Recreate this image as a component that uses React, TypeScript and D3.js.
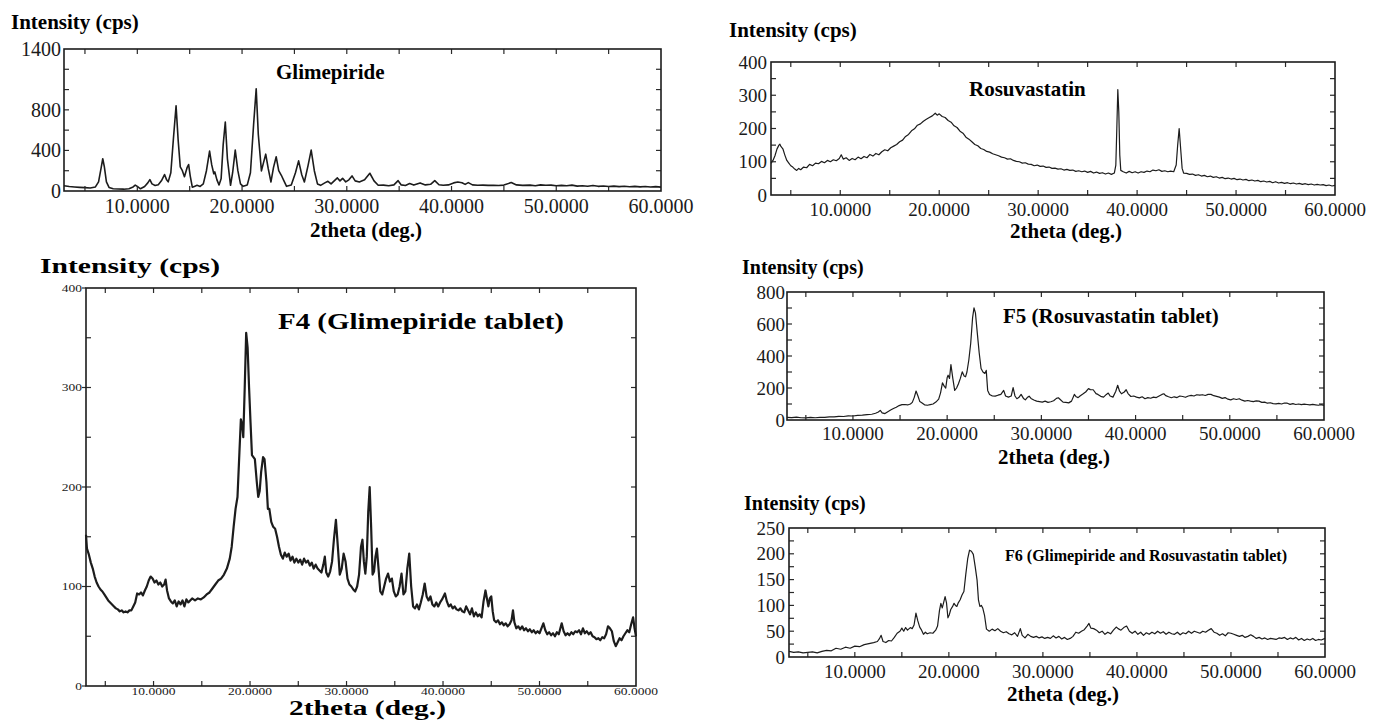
import React from 'react';
import * as d3 from 'd3';

// XRD patterns, [2theta (deg), intensity (cps)]
const glimepiride: [number, number][] = [
  [3.0,52],[3.5,45],[4.0,40],[4.5,36],[5.0,33],[5.5,30],[6.0,40],[6.3,90],[6.55,230],[6.7,318],[6.85,240],[7.05,90],[7.3,35],[7.7,22],[8.2,20],[8.7,18],[9.2,22],[9.6,40],[9.8,58],[10.0,45],[10.3,22],[10.7,45],[11.0,80],[11.2,112],[11.4,70],[11.7,55],[12.0,62],[12.3,100],[12.6,162],[12.8,110],[12.95,90],[13.2,180],[13.45,520],[13.7,839],[13.9,500],[14.1,238],[14.3,200],[14.5,140],[14.75,230],[14.9,261],[15.05,150],[15.25,38],[15.5,48],[15.7,56],[16.0,45],[16.3,70],[16.6,200],[16.9,393],[17.1,260],[17.3,170],[17.4,188],[17.6,110],[17.8,60],[18.0,120],[18.2,460],[18.4,680],[18.6,320],[18.9,56],[19.1,180],[19.35,403],[19.6,200],[19.85,70],[20.1,46],[20.5,60],[20.8,180],[21.1,650],[21.35,1007],[21.55,560],[21.85,198],[22.05,280],[22.26,363],[22.5,220],[22.76,89],[23.0,230],[23.26,337],[23.5,200],[23.75,155],[24.0,100],[24.25,46],[24.7,60],[25.1,180],[25.4,297],[25.7,160],[25.95,89],[26.3,250],[26.6,403],[26.9,200],[27.2,70],[27.5,56],[27.9,80],[28.2,96],[28.5,70],[28.9,110],[29.1,129],[29.35,100],[29.6,125],[29.9,90],[30.2,110],[30.5,149],[30.8,100],[31.2,89],[31.7,110],[32.2,175],[32.6,100],[33.0,56],[33.5,58],[34.0,52],[34.5,60],[34.9,102],[35.2,60],[35.6,55],[36.0,73],[36.4,58],[37.0,80],[37.5,60],[38.0,66],[38.4,102],[38.8,62],[39.2,56],[39.7,60],[40.2,80],[40.6,89],[41.0,82],[41.3,65],[41.6,83],[42.0,60],[42.5,56],[43.0,58],[43.5,55],[44.0,57],[44.5,54],[45.0,58],[45.7,83],[46.2,60],[46.8,55],[47.5,58],[48.0,52],[48.5,60],[49.0,56],[49.5,58],[50.0,52],[50.5,55],[51.0,52],[51.5,58],[52.0,48],[52.5,52],[53.0,47],[53.5,54],[54.0,46],[54.5,50],[55.0,44],[55.5,48],[56.0,43],[56.5,47],[57.0,42],[57.5,46],[58.0,41],[58.5,45],[59.0,40],[59.5,43],[60.0,38]
];

const rosuvastatin: [number, number][] = [
  [3.0,95],[3.2,104],[3.4,118],[3.6,138],[3.8,150],[3.9,153],[4.0,146],[4.2,139],[4.4,120],[4.6,104],[4.8,96],[5.0,88],[5.2,84],[5.4,78],[5.6,74],[5.8,80],[6.0,76],[6.3,84],[6.6,82],[6.9,92],[7.2,88],[7.5,96],[7.8,94],[8.1,101],[8.4,97],[8.7,104],[9.0,100],[9.3,106],[9.6,103],[9.9,110],[10.1,121],[10.3,108],[10.6,112],[10.9,104],[11.2,110],[11.5,106],[11.8,114],[12.1,109],[12.4,116],[12.7,112],[13.0,122],[13.3,117],[13.6,125],[13.9,121],[14.2,130],[14.5,136],[14.8,133],[15.1,142],[15.4,147],[15.7,152],[16.0,160],[16.3,165],[16.6,176],[16.9,182],[17.2,193],[17.5,199],[17.8,210],[18.1,214],[18.4,222],[18.7,228],[19.0,233],[19.3,238],[19.6,246],[19.8,240],[20.0,244],[20.3,236],[20.6,233],[20.9,224],[21.2,219],[21.5,208],[21.8,203],[22.1,192],[22.4,186],[22.7,174],[23.0,168],[23.3,160],[23.6,152],[23.9,148],[24.2,140],[24.5,137],[24.8,131],[25.1,129],[25.4,124],[25.7,121],[26.0,118],[26.3,114],[26.6,112],[26.9,108],[27.2,109],[27.5,104],[27.8,101],[28.1,100],[28.4,96],[28.7,97],[29.0,93],[29.3,92],[29.6,88],[29.9,90],[30.2,86],[30.5,87],[30.8,83],[31.1,84],[31.4,80],[31.7,81],[32.0,78],[32.3,79],[32.6,75],[32.9,77],[33.2,74],[33.5,75],[33.8,71],[34.1,73],[34.4,70],[34.7,72],[35.0,68],[35.3,71],[35.6,66],[35.9,69],[36.2,65],[36.5,67],[36.8,63],[37.1,66],[37.4,62],[37.7,66],[37.85,90],[37.95,200],[38.05,317],[38.15,250],[38.25,120],[38.35,74],[38.6,70],[38.9,66],[39.2,71],[39.5,67],[39.8,70],[40.1,66],[40.4,70],[40.7,68],[41.0,72],[41.3,70],[41.6,75],[41.9,73],[42.2,76],[42.5,71],[42.8,73],[43.1,70],[43.4,72],[43.7,70],[43.95,90],[44.1,150],[44.25,200],[44.4,140],[44.55,80],[44.7,66],[45.0,65],[45.3,62],[45.6,63],[45.9,59],[46.2,61],[46.5,57],[46.8,59],[47.1,55],[47.4,57],[47.7,53],[48.0,55],[48.3,51],[48.6,53],[48.9,49],[49.2,51],[49.5,48],[49.8,50],[50.1,46],[50.4,48],[50.7,45],[51.0,47],[51.3,43],[51.6,45],[51.9,42],[52.2,44],[52.5,40],[52.8,42],[53.1,39],[53.4,41],[53.7,37],[54.0,40],[54.3,36],[54.6,38],[54.9,35],[55.2,37],[55.5,34],[55.8,36],[56.1,33],[56.4,35],[56.7,32],[57.0,34],[57.3,31],[57.6,33],[57.9,30],[58.2,32],[58.5,30],[58.8,31],[59.1,28],[59.4,30],[59.7,27],[60.0,29]
];

const f4Tablet: [number, number][] = [
  [3.0,152],[3.1,138],[3.3,132],[3.5,124],[3.7,118],[3.9,110],[4.1,104],[4.3,100],[4.5,97],[4.7,95],[4.9,92],[5.1,89],[5.3,86],[5.5,84],[5.7,82],[5.9,80],[6.1,78],[6.3,77],[6.5,75],[6.7,76],[6.9,74],[7.1,75],[7.3,74],[7.5,76],[7.7,76],[7.9,80],[8.1,84],[8.3,93],[8.5,92],[8.7,94],[8.9,91],[9.1,96],[9.3,100],[9.5,106],[9.7,110],[9.9,108],[10.1,104],[10.3,106],[10.5,102],[10.7,104],[10.9,100],[11.1,102],[11.25,107],[11.4,96],[11.6,88],[11.8,85],[12.0,83],[12.2,86],[12.4,80],[12.6,85],[12.8,82],[13.0,86],[13.2,80],[13.4,87],[13.6,84],[13.8,86],[14.0,88],[14.3,86],[14.6,88],[14.9,87],[15.2,89],[15.5,92],[15.8,94],[16.1,98],[16.4,102],[16.7,106],[17.0,108],[17.3,112],[17.6,118],[17.9,128],[18.1,140],[18.3,160],[18.5,178],[18.7,190],[18.9,235],[19.05,268],[19.2,262],[19.3,250],[19.45,300],[19.6,355],[19.75,340],[19.9,300],[20.05,265],[20.2,232],[20.35,230],[20.5,228],[20.7,205],[20.85,190],[21.0,196],[21.15,215],[21.35,230],[21.5,228],[21.7,205],[21.85,178],[22.0,178],[22.2,165],[22.4,160],[22.6,158],[22.8,150],[23.0,140],[23.2,132],[23.4,128],[23.6,134],[23.8,130],[24.0,133],[24.2,126],[24.4,130],[24.6,124],[24.8,128],[25.0,124],[25.2,127],[25.4,122],[25.6,128],[25.8,124],[26.0,126],[26.2,121],[26.4,124],[26.6,118],[26.8,122],[27.0,118],[27.2,116],[27.4,114],[27.6,122],[27.75,130],[27.9,114],[28.1,110],[28.3,115],[28.5,125],[28.7,148],[28.9,167],[29.1,140],[29.3,112],[29.5,118],[29.7,133],[29.9,125],[30.1,108],[30.3,102],[30.5,100],[30.7,97],[30.9,95],[31.1,100],[31.3,112],[31.5,140],[31.65,147],[31.8,125],[31.95,113],[32.1,130],[32.25,175],[32.4,200],[32.55,160],[32.7,112],[32.85,115],[33.0,130],[33.15,138],[33.3,120],[33.5,95],[33.7,92],[33.9,100],[34.1,108],[34.3,113],[34.5,105],[34.7,108],[34.9,95],[35.1,90],[35.3,92],[35.5,100],[35.7,113],[35.9,92],[36.1,95],[36.3,118],[36.5,133],[36.7,100],[36.9,80],[37.1,78],[37.3,82],[37.5,77],[37.7,84],[37.9,92],[38.1,103],[38.3,90],[38.5,86],[38.7,90],[38.9,82],[39.1,80],[39.3,84],[39.5,80],[39.7,84],[39.9,87],[40.2,93],[40.4,85],[40.6,80],[40.8,82],[41.0,78],[41.2,80],[41.4,77],[41.6,76],[41.8,78],[42.0,75],[42.2,74],[42.4,80],[42.6,76],[42.8,72],[43.0,78],[43.2,70],[43.4,74],[43.6,70],[43.8,72],[44.0,69],[44.2,85],[44.4,96],[44.55,88],[44.7,80],[44.85,88],[45.0,90],[45.15,75],[45.3,66],[45.5,64],[45.7,66],[45.9,62],[46.1,64],[46.3,61],[46.5,63],[46.7,60],[46.9,62],[47.1,66],[47.25,76],[47.4,64],[47.6,58],[47.8,60],[48.0,57],[48.2,60],[48.4,56],[48.6,58],[48.8,55],[49.0,57],[49.2,54],[49.4,56],[49.6,53],[49.8,55],[50.0,53],[50.2,58],[50.4,63],[50.6,56],[50.8,52],[51.0,54],[51.2,51],[51.4,53],[51.6,50],[51.8,54],[52.0,52],[52.3,63],[52.5,55],[52.7,51],[52.9,53],[53.1,51],[53.3,54],[53.5,52],[53.7,55],[53.9,54],[54.1,56],[54.3,52],[54.5,58],[54.7,53],[54.9,55],[55.1,52],[55.3,54],[55.5,50],[55.7,49],[55.9,47],[56.1,48],[56.3,46],[56.5,49],[56.7,48],[56.9,52],[57.1,60],[57.3,58],[57.5,55],[57.7,45],[57.9,40],[58.1,44],[58.3,48],[58.5,46],[58.7,50],[58.9,53],[59.1,56],[59.3,54],[59.5,62],[59.7,69],[59.85,58],[60.0,50]
];

const f5Tablet: [number, number][] = [
  [3.0,17],[3.5,15],[4.0,18],[4.5,14],[5.0,13],[5.5,16],[6.0,14],[6.5,17],[7.0,16],[7.5,20],[8.0,19],[8.5,23],[9.0,22],[9.5,26],[10.0,25],[10.5,29],[11.0,30],[11.5,34],[12.0,36],[12.4,42],[12.7,50],[12.9,60],[13.1,45],[13.4,40],[13.7,52],[14.0,62],[14.3,72],[14.6,80],[14.9,90],[15.2,96],[15.5,97],[15.8,94],[16.1,100],[16.3,110],[16.5,140],[16.7,181],[16.9,150],[17.1,115],[17.3,108],[17.6,95],[17.9,92],[18.2,96],[18.5,100],[18.8,112],[19.1,130],[19.3,170],[19.5,232],[19.7,210],[19.85,200],[20.0,265],[20.1,280],[20.25,260],[20.4,347],[20.6,260],[20.8,185],[21.0,200],[21.2,227],[21.4,260],[21.6,301],[21.8,275],[21.95,270],[22.1,300],[22.3,375],[22.5,480],[22.7,640],[22.85,701],[23.0,670],[23.2,543],[23.4,420],[23.6,322],[23.8,300],[24.0,291],[24.15,310],[24.3,185],[24.5,160],[24.8,150],[25.1,149],[25.4,155],[25.7,160],[26.0,185],[26.2,150],[26.5,143],[26.8,150],[27.0,202],[27.2,150],[27.4,133],[27.6,140],[27.85,160],[28.1,135],[28.3,126],[28.5,140],[28.7,149],[28.9,135],[29.2,125],[29.5,118],[29.8,115],[30.1,112],[30.4,118],[30.7,110],[31.0,114],[31.3,120],[31.6,135],[31.8,139],[32.0,128],[32.3,112],[32.6,110],[32.9,107],[33.2,118],[33.5,160],[33.7,145],[33.9,140],[34.1,150],[34.4,162],[34.7,175],[35.0,196],[35.2,190],[35.5,189],[35.8,165],[36.0,160],[36.3,148],[36.6,143],[36.9,160],[37.1,168],[37.3,150],[37.6,143],[37.9,180],[38.1,217],[38.3,180],[38.5,164],[38.8,175],[39.0,189],[39.2,165],[39.5,147],[39.8,150],[40.1,143],[40.4,138],[40.7,145],[41.0,133],[41.3,140],[41.6,136],[41.9,143],[42.2,140],[42.5,150],[42.8,160],[43.0,164],[43.2,152],[43.5,145],[43.8,139],[44.1,145],[44.4,140],[44.7,150],[45.0,147],[45.3,142],[45.6,150],[45.9,154],[46.2,150],[46.5,158],[46.8,155],[47.1,158],[47.4,153],[47.7,160],[48.0,160],[48.3,152],[48.6,148],[48.9,143],[49.2,135],[49.5,140],[49.8,130],[50.1,126],[50.4,133],[50.7,128],[51.0,133],[51.3,124],[51.6,118],[51.9,122],[52.2,118],[52.5,115],[52.8,120],[53.1,118],[53.4,110],[53.7,112],[54.0,105],[54.3,108],[54.6,102],[54.9,101],[55.2,104],[55.5,100],[55.8,106],[56.1,105],[56.4,98],[56.7,102],[57.0,97],[57.3,100],[57.6,96],[57.9,99],[58.2,97],[58.5,94],[58.8,98],[59.1,95],[59.4,92],[59.7,96],[60.0,91]
];

const f6Tablet: [number, number][] = [
  [3.0,11],[3.5,9],[4.0,10],[4.5,8],[5.0,9],[5.5,10],[6.0,8],[6.5,11],[7.0,13],[7.5,12],[8.0,17],[8.5,15],[9.0,19],[9.5,17],[10.0,21],[10.5,20],[11.0,24],[11.5,26],[12.0,28],[12.4,30],[12.6,35],[12.8,42],[13.0,30],[13.3,28],[13.6,32],[13.9,31],[14.2,38],[14.5,46],[14.8,50],[15.0,56],[15.2,50],[15.4,57],[15.6,52],[15.9,57],[16.1,55],[16.3,62],[16.5,85],[16.7,70],[16.9,58],[17.1,52],[17.3,44],[17.5,48],[17.7,45],[18.0,47],[18.3,46],[18.6,52],[18.8,60],[19.0,90],[19.15,104],[19.3,95],[19.45,106],[19.6,117],[19.75,105],[19.9,76],[20.05,82],[20.2,92],[20.4,98],[20.55,104],[20.7,100],[20.85,98],[21.0,105],[21.2,111],[21.4,120],[21.6,127],[21.8,160],[22.0,190],[22.2,207],[22.4,205],[22.6,199],[22.8,175],[23.0,149],[23.15,110],[23.3,98],[23.45,100],[23.6,95],[23.8,80],[24.0,54],[24.3,50],[24.6,54],[24.9,51],[25.2,55],[25.5,50],[25.8,47],[26.1,49],[26.4,45],[26.7,43],[27.0,47],[27.3,40],[27.6,55],[27.8,42],[28.1,37],[28.4,44],[28.7,40],[29.0,38],[29.3,40],[29.6,37],[29.9,39],[30.2,36],[30.5,38],[30.8,36],[31.1,41],[31.4,37],[31.7,40],[32.0,35],[32.3,38],[32.6,34],[32.9,36],[33.2,40],[33.5,48],[33.8,46],[34.1,50],[34.4,53],[34.7,60],[34.9,65],[35.1,56],[35.4,55],[35.7,52],[36.0,47],[36.3,50],[36.6,44],[36.9,48],[37.2,45],[37.5,52],[37.8,58],[38.0,55],[38.3,52],[38.6,57],[38.9,60],[39.2,50],[39.5,46],[39.8,50],[40.1,44],[40.4,48],[40.7,42],[41.0,47],[41.3,44],[41.6,48],[41.9,45],[42.2,50],[42.5,46],[42.8,49],[43.1,44],[43.4,48],[43.7,45],[44.0,44],[44.3,48],[44.6,43],[44.9,47],[45.2,45],[45.5,50],[45.8,46],[46.1,50],[46.4,48],[46.7,46],[47.0,50],[47.3,48],[47.6,52],[47.9,55],[48.2,48],[48.5,46],[48.8,42],[49.1,45],[49.4,41],[49.7,47],[50.0,46],[50.3,44],[50.6,42],[50.9,40],[51.2,42],[51.5,38],[51.8,40],[52.1,43],[52.4,40],[52.7,36],[53.0,38],[53.3,35],[53.6,37],[53.9,34],[54.2,36],[54.5,35],[54.8,34],[55.1,37],[55.4,36],[55.7,38],[56.0,34],[56.3,37],[56.6,35],[56.9,38],[57.2,33],[57.5,36],[57.8,32],[58.1,35],[58.4,33],[58.7,36],[59.0,32],[59.3,34],[59.6,33],[60.0,36]
];

const xDomain: [number, number] = [3, 60];
const xTickMarks = d3.range(5, 61, 5);
const xTickLabels = [10, 20, 30, 40, 50, 60];

const SERIF = '"Liberation Serif", "Times New Roman", serif';
const fmt = d3.format('.4f');

// approx. Times advance width of a numeric label, in em
const numEm = (s: string) => s.split('').reduce((a, c) => a + (c === '.' ? 0.25 : 0.5), 0);

type Txt = { text: string; x: number; y: number; size: number; anchor?: string; len?: number };

type PanelCfg = {
  l: number; t: number; r: number; b: number;
  yMax: number; yStep: number; yLabels: number[];
  data: [number, number][];
  tickFont: number; stretch: number;
  xLabelY: number; yLabelX: number;
  tickLen: number; outTick: number;
  lineW: number;
  yTitle: Txt; title: Txt; xTitle: Txt;
};

const panels: PanelCfg[] = [
  {
    l: 64, t: 49, r: 661, b: 191, yMax: 1400, yStep: 200, yLabels: [0, 400, 800, 1400],
    data: glimepiride, tickFont: 20, stretch: 1, xLabelY: 206, yLabelX: 61, tickLen: 5, outTick: 0, lineW: 1.6,
    yTitle: { text: 'Intensity (cps)', x: 11, y: 22, size: 21 },
    title: { text: 'Glimepiride', x: 276, y: 72, size: 21 },
    xTitle: { text: '2theta (deg.)', x: 366, y: 230, size: 21, anchor: 'middle' },
  },
  {
    l: 771, t: 62, r: 1335, b: 195, yMax: 400, yStep: 50, yLabels: [0, 100, 200, 300, 400],
    data: rosuvastatin, tickFont: 19, stretch: 1, xLabelY: 209, yLabelX: 767, tickLen: 5, outTick: 0, lineW: 1.2,
    yTitle: { text: 'Intensity (cps)', x: 729, y: 30, size: 21 },
    title: { text: 'Rosuvastatin', x: 969, y: 89, size: 21 },
    xTitle: { text: '2theta (deg.)', x: 1066, y: 231, size: 21, anchor: 'middle' },
  },
  {
    l: 86, t: 288, r: 636, b: 686, yMax: 400, yStep: 50, yLabels: [0, 100, 200, 300, 400],
    data: f4Tablet, tickFont: 10, stretch: 1.35, xLabelY: 691, yLabelX: 82, tickLen: 5, outTick: 4, lineW: 2.2,
    yTitle: { text: 'Intensity (cps)', x: 40, y: 265, size: 22, len: 180 },
    title: { text: 'F4 (Glimepiride tablet)', x: 278, y: 321, size: 23, len: 286 },
    xTitle: { text: '2theta (deg.)', x: 289, y: 708, size: 20, len: 157 },
  },
  {
    l: 787, t: 292, r: 1324, b: 420, yMax: 800, yStep: 100, yLabels: [0, 200, 400, 600, 800],
    data: f5Tablet, tickFont: 19, stretch: 1, xLabelY: 433, yLabelX: 785, tickLen: 5, outTick: 0, lineW: 1.2,
    yTitle: { text: 'Intensity (cps)', x: 742, y: 267, size: 20 },
    title: { text: 'F5 (Rosuvastatin tablet)', x: 1003, y: 316, size: 21 },
    xTitle: { text: '2theta (deg.)', x: 1054, y: 457, size: 21, anchor: 'middle' },
  },
  {
    l: 789, t: 528, r: 1325, b: 657, yMax: 250, yStep: 25, yLabels: [0, 50, 100, 150, 200, 250],
    data: f6Tablet, tickFont: 19, stretch: 1, xLabelY: 671, yLabelX: 785, tickLen: 5, outTick: 0, lineW: 1.2,
    yTitle: { text: 'Intensity (cps)', x: 744, y: 503, size: 20 },
    title: { text: 'F6 (Glimepiride and Rosuvastatin tablet)', x: 1005, y: 555, size: 17, len: 282 },
    xTitle: { text: '2theta (deg.)', x: 1063, y: 694, size: 21, anchor: 'middle' },
  },
];

const BoldText = ({ t }: { t: Txt }) => (
  <text
    x={t.x} y={t.y} dy="0.35em" fontFamily={SERIF} fontWeight="bold" fontSize={t.size}
    textAnchor={t.anchor || 'start'} fill="#000"
    {...(t.len ? { textLength: t.len, lengthAdjust: 'spacingAndGlyphs' } : {})}
  >
    {t.text}
  </text>
);

const Panel = ({ cfg }: { cfg: PanelCfg }) => {
  const x = d3.scaleLinear().domain(xDomain).range([cfg.l, cfg.r]);
  const y = d3.scaleLinear().domain([0, cfg.yMax]).range([cfg.b, cfg.t]);
  const line = d3.line<[number, number]>().x(d => x(d[0])).y(d => y(d[1]));
  const yTicks = d3.range(cfg.yStep, cfg.yMax, cfg.yStep);
  const tl = cfg.tickLen;
  const stretchLen = (s: string) =>
    cfg.stretch !== 1 ? { textLength: numEm(s) * cfg.tickFont * cfg.stretch, lengthAdjust: 'spacingAndGlyphs' } : {};

  return (
    <g>
      <path d={line(cfg.data) || ''} fill="none" stroke="#1c1c1c" strokeWidth={cfg.lineW} strokeLinejoin="round" />
      <g stroke="#2a2a2a" strokeWidth={1.2}>
        {xTickMarks.filter(v => v < 60).map(v => (
          <g key={'x' + v}>
            <line x1={x(v)} x2={x(v)} y1={cfg.b} y2={cfg.b - tl} />
            <line x1={x(v)} x2={x(v)} y1={cfg.t} y2={cfg.t + tl} />
          </g>
        ))}
        {yTicks.map(v => (
          <g key={'y' + v}>
            <line x1={cfg.l} x2={cfg.l + tl} y1={y(v)} y2={y(v)} />
            <line x1={cfg.r} x2={cfg.r - tl} y1={y(v)} y2={y(v)} />
          </g>
        ))}
        {cfg.outTick > 0 && cfg.yLabels.map(v => (
          <line key={'o' + v} x1={cfg.l - cfg.outTick} x2={cfg.l} y1={y(v)} y2={y(v)} />
        ))}
      </g>
      <rect x={cfg.l} y={cfg.t} width={cfg.r - cfg.l} height={cfg.b - cfg.t} fill="none" stroke="#1c1c1c" strokeWidth={1.6} />
      <g fontFamily={SERIF} fontSize={cfg.tickFont} fill="#1a1a1a">
        {xTickLabels.map(v => (
          <text key={'xl' + v} x={x(v)} y={cfg.xLabelY} dy="0.35em" textAnchor="middle" {...stretchLen(fmt(v))}>
            {fmt(v)}
          </text>
        ))}
        {cfg.yLabels.map(v => (
          <text key={'yl' + v} x={cfg.yLabelX} y={y(v)} dy="0.35em" textAnchor="end" {...stretchLen(String(v))}>
            {v}
          </text>
        ))}
      </g>
      <BoldText t={cfg.yTitle} />
      <BoldText t={cfg.title} />
      <BoldText t={cfg.xTitle} />
    </g>
  );
};

export default function App() {
  return (
    <svg width={1381} height={720} style={{ position: 'absolute', left: 0, top: 0, background: '#fff' }}>
      {panels.map((p, i) => <Panel key={i} cfg={p} />)}
    </svg>
  );
}
